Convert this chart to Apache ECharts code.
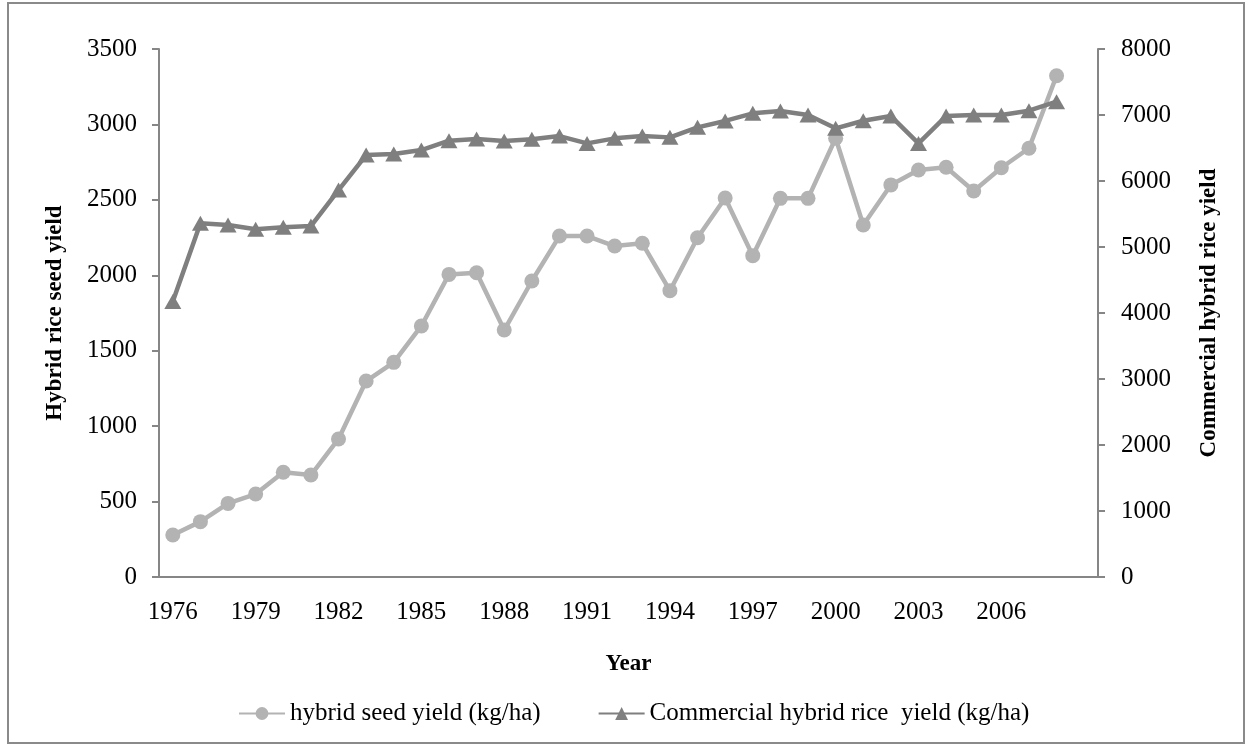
<!DOCTYPE html>
<html>
<head>
<meta charset="utf-8">
<script src="https://cdn.jsdelivr.net/npm/echarts@6/dist/echarts.min.js"></script>
<style>html,body{margin:0;padding:0;background:#fff;}#c{width:1248px;height:746px;}</style>
</head>
<body>
<div id="c"></div>
<script>
var years = ['1976','1977','1978','1979','1980','1981','1982','1983','1984','1985','1986','1987','1988','1989','1990','1991','1992','1993','1994','1995','1996','1997','1998','1999','2000','2001','2002','2003','2004','2005','2006','2007','2008',''];
var seedYield = [278,367,488,550,694,676,915,1299,1423,1664,2006,2017,1637,1962,2260,2260,2194,2212,1898,2249,2512,2130,2510,2510,2908,2333,2599,2698,2716,2559,2713,2842,3323,null];
var commercialYield = [4175,5359,5333,5268,5298,5318,5863,6393,6408,6469,6610,6636,6605,6631,6681,6570,6646,6681,6661,6813,6910,7025,7060,7000,6798,6913,6984,6570,6984,7000,7000,7065,7201,null];
var leftTicks = {min:0, max:3500, interval:500};
var rightTicks = {min:0, max:8000, interval:1000};

var FONT = 'Liberation Serif';
var axisGray = '#868686';
var plain = function (v) { return String(v); };
var chart = echarts.init(document.getElementById('c'));
chart.setOption({
  backgroundColor:'#fff',
  animation:false,
  graphic:[{type:'rect', shape:{x:8,y:3,width:1236,height:740}, style:{fill:'none', stroke:'#8a8a8a', lineWidth:2}, silent:true}],
  grid:{left:159, right:150, top:49, bottom:169},
  legend:{
    left:233, top:696, itemWidth:46, itemHeight:16, itemGap:57,
    textStyle:{fontFamily:FONT, fontSize:25, color:'#000'},
    data:['hybrid seed yield (kg/ha)','Commercial hybrid rice  yield (kg/ha)']
  },
  xAxis:{
    type:'category', data:years, boundaryGap:true,
    name:'Year', nameLocation:'middle', nameGap:76,
    nameTextStyle:{fontFamily:FONT, fontSize:23, fontWeight:'bold', color:'#000'},
    axisLine:{lineStyle:{color:axisGray, width:2}},
    axisTick:{interval:0, length:7, lineStyle:{color:axisGray, width:2}},
    axisLabel:{interval:2, margin:23, fontFamily:FONT, fontSize:25, color:'#000'},
    splitLine:{show:false}
  },
  yAxis:[{
    type:'value', min:leftTicks.min, max:leftTicks.max, interval:leftTicks.interval,
    name:'Hybrid rice seed yield', nameLocation:'middle', nameGap:92, nameRotate:90,
    nameTextStyle:{fontFamily:FONT, fontSize:23, fontWeight:'bold', color:'#000'},
    axisLine:{show:true, lineStyle:{color:axisGray, width:2}},
    axisTick:{show:true, length:7, lineStyle:{color:axisGray, width:2}},
    axisLabel:{margin:22, fontFamily:FONT, fontSize:25, color:'#000', formatter:plain},
    splitLine:{show:false}
  },{
    type:'value', position:'right', min:rightTicks.min, max:rightTicks.max, interval:rightTicks.interval,
    name:'Commercial hybrid rice yield', nameLocation:'middle', nameGap:100, nameRotate:90,
    nameTextStyle:{fontFamily:FONT, fontSize:23, fontWeight:'bold', color:'#000'},
    axisLine:{show:true, lineStyle:{color:axisGray, width:2}},
    axisTick:{show:true, length:7, lineStyle:{color:axisGray, width:2}},
    axisLabel:{margin:23, fontFamily:FONT, fontSize:25, color:'#000', formatter:plain},
    splitLine:{show:false}
  }],
  series:[{
    name:'hybrid seed yield (kg/ha)', type:'line', yAxisIndex:0, data:seedYield,
    symbol:'circle', symbolSize:15,
    lineStyle:{color:'#b3b3b3', width:4.5},
    itemStyle:{color:'#b3b3b3'}
  },{
    name:'Commercial hybrid rice  yield (kg/ha)', type:'line', yAxisIndex:1, data:commercialYield,
    symbol:'triangle', symbolSize:[17,15],
    lineStyle:{color:'#7f7f7f', width:4.5},
    itemStyle:{color:'#7f7f7f'}
  }]
});
</script>
</body>
</html>
